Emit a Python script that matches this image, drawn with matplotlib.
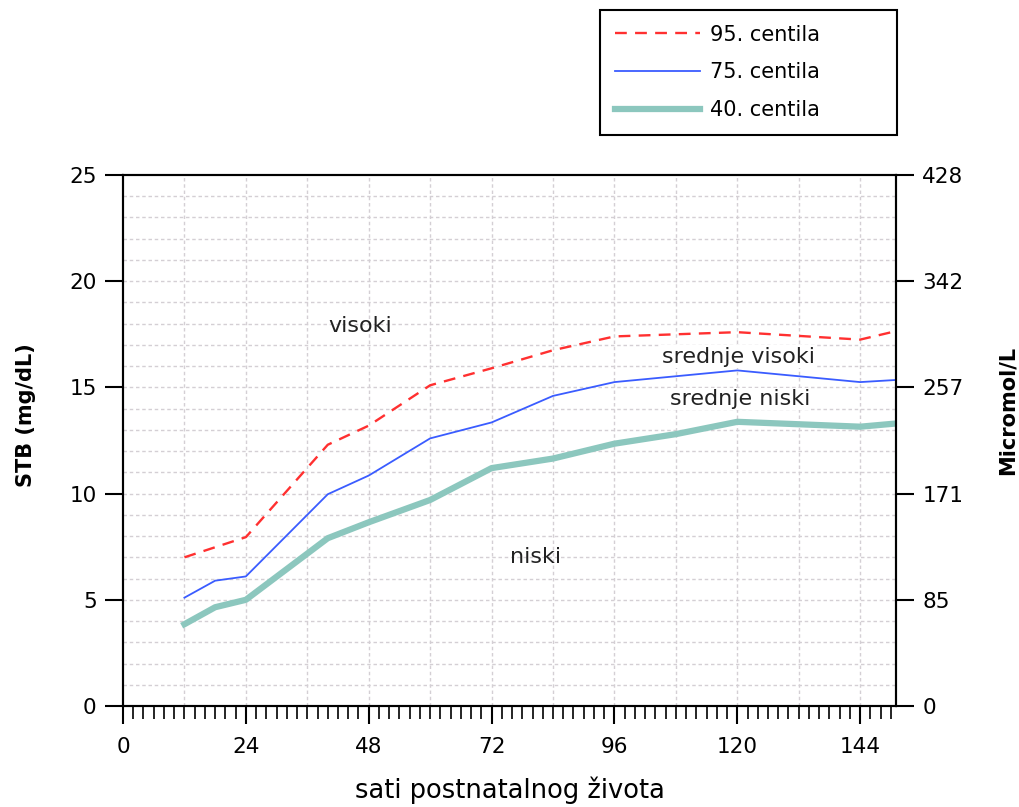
import numpy as np
import matplotlib
matplotlib.use("Agg")
import matplotlib.pyplot as plt
from matplotlib.ticker import MultipleLocator

# hours after birth and total serum bilirubin (mg/dL)
sati_95 = [12, 24, 40, 48, 60, 72, 84, 96, 120, 144, 151]
stb_95 = [7.0, 7.95, 12.3, 13.2, 15.1, 15.9, 16.75, 17.4, 17.6, 17.25, 17.65]

sati_75 = [12, 18, 24, 40, 48, 60, 72, 84, 96, 120, 144, 151]
stb_75 = [5.1, 5.9, 6.1, 9.97, 10.85, 12.6, 13.35, 14.6, 15.25, 15.8, 15.25, 15.35]

sati_40 = [12, 18, 24, 40, 48, 60, 72, 84, 96, 108, 120, 144, 151]
stb_40 = [3.85, 4.65, 5.0, 7.9, 8.65, 9.7, 11.2, 11.65, 12.35, 12.8, 13.38, 13.15, 13.3]

x_ticks = [0, 24, 48, 72, 96, 120, 144]
y_ticks = [0, 5, 10, 15, 20, 25]
micromol_labels = ["0", "85", "171", "257", "342", "428"]

fig = plt.figure(figsize=(10.2, 8.07), dpi=100)
ax = fig.add_axes([123/1020, 1 - 706/807, (896-123)/1020, (706-175)/807])

# background grid
for gx in range(12, 151, 12):
	ax.axvline(gx, color="#d4cfd4", lw=1, ls=(0, (2.5, 2)), zorder=0)
for gy in range(1, 25):
	ax.axhline(gy, color="#d4cfd4", lw=1, ls=(0, (2.5, 2)), zorder=0)

l95, = ax.plot(sati_95, stb_95, color="#ff3030", lw=1.7, ls=(0, (5, 3.5)), label="95. centila")
l75, = ax.plot(sati_75, stb_75, color="#3a5cff", lw=1.3, label="75. centila")
l40, = ax.plot(sati_40, stb_40, color="#8cc7be", lw=4.5, label="40. centila")

ax.set_xlim(0, 151)
ax.set_ylim(0, 25)
ax.set_xticks(x_ticks)
ax.xaxis.set_minor_locator(MultipleLocator(2))
ax.set_yticks(y_ticks)
ax.tick_params(axis="x", which="major", length=13, width=1.5, labelsize=15.5, pad=9)
ax.tick_params(axis="x", which="minor", length=9, width=1.2)
ax.tick_params(axis="y", length=13, width=1.5, labelsize=15.5, pad=6)
for s in ax.spines.values():
	s.set_linewidth(1.5)

ax2 = ax.twinx()
ax2.set_ylim(0, 25)
ax2.set_yticks(y_ticks)
ax2.set_yticklabels(micromol_labels)
ax2.tick_params(axis="y", length=13, width=1.5, labelsize=15.5, pad=6)
for s in ax2.spines.values():
	s.set_linewidth(1.5)

ax.set_ylabel("STB (mg/dL)", fontsize=15, fontweight="bold")
ax.yaxis.set_label_coords(-0.112, 0.548)
ax2.set_ylabel("Micromol/L", fontsize=15, fontweight="bold")
ax2.yaxis.set_label_coords(1.132, 0.556)
ax.set_xlabel("sati postnatalnog života", fontsize=18.5, labelpad=14)

# zone labels
ax.text(46.3, 17.9, "visoki", fontsize=16, ha="center", va="center", color="#222222")
ax.text(120.2, 16.45, "srednje visoki", fontsize=16, ha="center", va="center", color="#222222",
	bbox=dict(facecolor="white", edgecolor="none", pad=1))
ax.text(120.5, 14.45, "srednje niski", fontsize=16, ha="center", va="center", color="#222222",
	bbox=dict(facecolor="white", edgecolor="none", pad=1))
ax.text(80.5, 7.0, "niski", fontsize=16, ha="center", va="center", color="#222222")

leg = fig.legend(handles=[l95, l75, l40], loc="upper left",
	bbox_to_anchor=(600/1020, 1 - 135/807, 297/1020, 125/807), mode="expand",
	fontsize=15, handlelength=4.1, handletextpad=0.5, labelspacing=0.85, borderaxespad=0,
	borderpad=0.7, fancybox=False, edgecolor="black", framealpha=1)
leg.get_frame().set_linewidth(1.5)

fig.savefig("out.png", dpi=100)
